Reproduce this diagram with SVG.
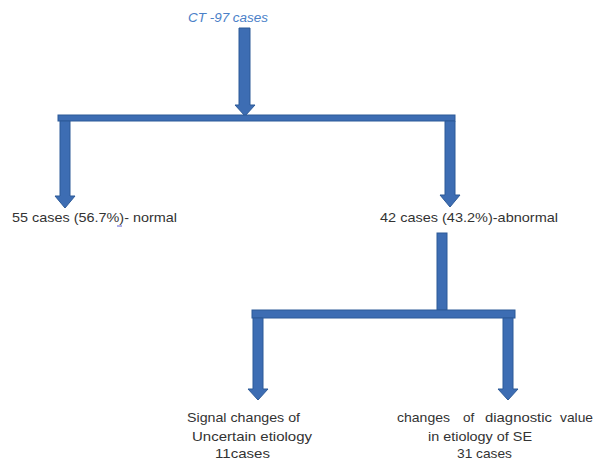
<svg xmlns="http://www.w3.org/2000/svg" width="597" height="460" viewBox="0 0 597 460">
<style>
.blk{fill:#3d6db3;stroke:#2d5a98;stroke-width:1}
.t{font-family:"Liberation Sans",Arial,sans-serif;font-size:13.5px;fill:#333333}
.ti{font-family:"Liberation Sans",Arial,sans-serif;font-size:12px;font-style:italic;fill:#4a80c8}
</style>
<rect width="597" height="460" fill="#ffffff"/>
<g id="connectors">
<polygon class="blk" points="239,28 250,28 250,105 255,105 245,116 235,105 239,105"/>
<rect class="blk" x="58" y="115" width="397" height="6"/>
<polygon class="blk" points="60,121 70,121 70,196 75,196 65,208 55,196 60,196"/>
<polygon class="blk" points="445,121 455,121 455,195 460,195 450,207 440,195 445,195"/>
<rect class="blk" x="437" y="233" width="10" height="77"/>
<rect class="blk" x="252" y="310" width="263" height="8"/>
<polygon class="blk" points="253,318 263,318 263,389 268,389 258,400 248,389 253,389"/>
<polygon class="blk" points="503,318 513,318 513,389 518,389 508,400 498,389 503,389"/>
</g>
<g id="n-ct"><text class="ti" x="188" y="22" textLength="80" lengthAdjust="spacingAndGlyphs">CT -97 cases</text></g>
<g id="n-normal"><text class="t" x="12" y="222" textLength="165" lengthAdjust="spacingAndGlyphs">55 cases (56.7%)- normal</text>
<path d="M117,226 h5" stroke="#5a5ad0" stroke-width="1" fill="none"/></g>
<g id="n-abnormal"><text class="t" x="380" y="222" textLength="178" lengthAdjust="spacingAndGlyphs">42 cases (43.2%)-abnormal</text></g>
<g id="n-uncertain">
<text class="t" x="187" y="422" textLength="113" lengthAdjust="spacingAndGlyphs">Signal changes of</text>
<text class="t" x="192" y="441" textLength="120" lengthAdjust="spacingAndGlyphs">Uncertain etiology</text>
<text class="t" x="215" y="458" textLength="55" lengthAdjust="spacingAndGlyphs">11cases</text>
</g>
<g id="n-diagnostic">
<text class="t" y="422"><tspan x="397" textLength="53" lengthAdjust="spacingAndGlyphs">changes</tspan><tspan x="463">of</tspan><tspan x="485" textLength="67" lengthAdjust="spacingAndGlyphs">diagnostic</tspan><tspan x="560" textLength="33" lengthAdjust="spacingAndGlyphs">value</tspan></text>
<text class="t" x="428" y="441" textLength="104" lengthAdjust="spacingAndGlyphs">in etiology of SE</text>
<text class="t" x="457" y="458" textLength="55" lengthAdjust="spacingAndGlyphs">31 cases</text>
</g>
</svg>
